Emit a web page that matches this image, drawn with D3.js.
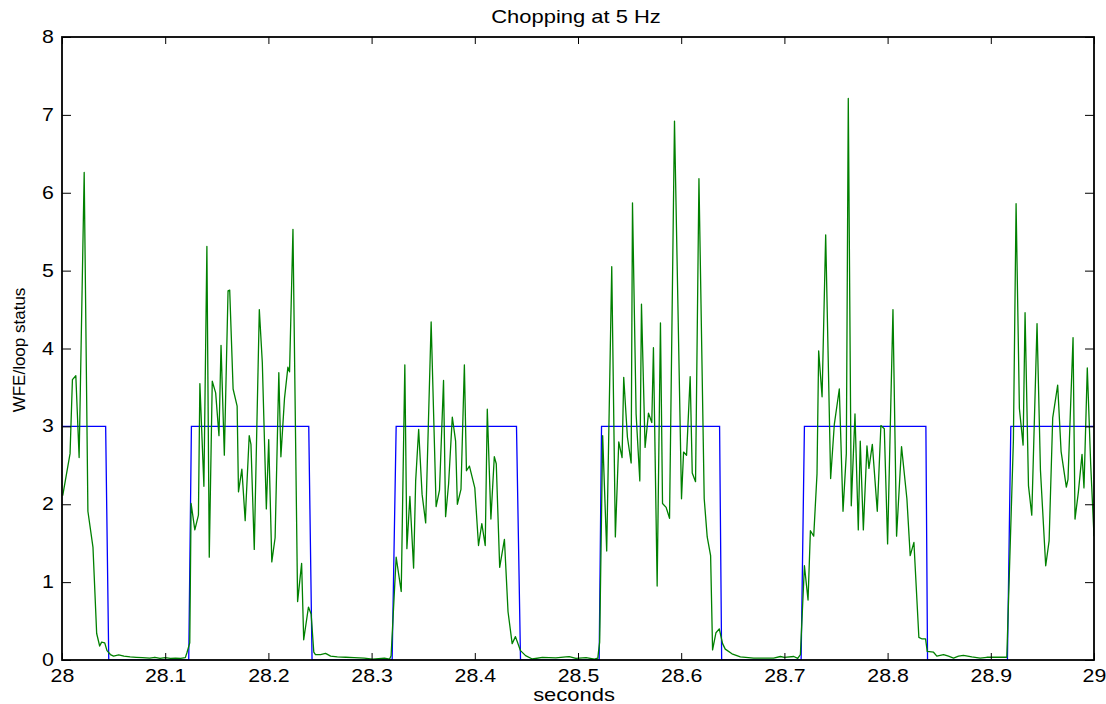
<!DOCTYPE html>
<html>
<head>
<meta charset="utf-8">
<script src="https://cdn.jsdelivr.net/npm/d3@7"></script>
<style>
  body { margin: 0; background: #fff; }
  svg text { font-family: "Liberation Sans", Arial, sans-serif; fill: #000; }
</style>
</head>
<body>
<script>
//Chopping at 5 Hz - WFE trace and loop status

//axis ticks
var xTicks = [28, 28.1, 28.2, 28.3, 28.4, 28.5, 28.6, 28.7, 28.8, 28.9, 29];
var yTicks = [0, 1, 2, 3, 4, 5, 6, 7, 8];

//loop status (square wave, 3 = closed loop)
var statusT = [28.0, 28.0423, 28.0453, 28.1228, 28.1254, 28.2391, 28.2423, 28.3199, 28.3238,
    28.4404, 28.4443, 28.5205, 28.5228, 28.6372, 28.6392, 28.7162, 28.7194, 28.8371, 28.8387,
    28.9161, 28.9194, 29.0];
var statusV = [3, 3, 0, 0, 3, 3, 0, 0, 3, 3, 0, 0, 3, 3, 0, 0, 3, 3, 0, 0, 3, 3];

//WFE samples
var wfeT = [
    28.0007, 28.0078, 28.0101, 28.0134, 28.0166, 28.0215, 28.0251, 28.0300, 28.0336, 28.0365,
    28.0384, 28.0414, 28.0436, 28.0469, 28.0500, 28.0550, 28.0600, 28.0660, 28.0720, 28.0780,
    28.0850, 28.0900, 28.0950, 28.1000, 28.1050, 28.1100, 28.1150, 28.1195, 28.1212, 28.1238,
    28.1251, 28.1287, 28.1322, 28.1336, 28.1375, 28.1404, 28.1427, 28.1456, 28.1489, 28.1521,
    28.1541, 28.1573, 28.1609, 28.1625, 28.1658, 28.1697, 28.1710, 28.1743, 28.1775, 28.1814,
    28.1831, 28.1863, 28.1912, 28.1941, 28.1980, 28.2003, 28.2033, 28.2065, 28.2101, 28.2121,
    28.2156, 28.2189, 28.2205, 28.2238, 28.2283, 28.2322, 28.2342, 28.2388, 28.2414, 28.2440,
    28.2456, 28.2505, 28.2554, 28.2603, 28.2668, 28.2749, 28.2831, 28.2928, 28.3010, 28.3124,
    28.3173, 28.3189, 28.3238, 28.3287, 28.3322, 28.3342, 28.3371, 28.3407, 28.3427, 28.3456,
    28.3489, 28.3524, 28.3577, 28.3625, 28.3658, 28.3697, 28.3717, 28.3746, 28.3782, 28.3814,
    28.3831, 28.3866, 28.3899, 28.3919, 28.3948, 28.4000, 28.4036, 28.4068, 28.4101, 28.4121,
    28.4156, 28.4189, 28.4208, 28.4241, 28.4287, 28.4322, 28.4362, 28.4394, 28.4443, 28.4492,
    28.4557, 28.4655, 28.4785, 28.4883, 28.4915, 28.4980, 28.5078, 28.5160, 28.5192, 28.5200,
    28.5210, 28.5239, 28.5278, 28.5327, 28.5362, 28.5395, 28.5427, 28.5443, 28.5479, 28.5515,
    28.5528, 28.5563, 28.5599, 28.5615, 28.5650, 28.5683, 28.5715, 28.5731, 28.5767, 28.5799,
    28.5819, 28.5854, 28.5887, 28.5935, 28.6003, 28.6023, 28.6052, 28.6087, 28.6107, 28.6139,
    28.6172, 28.6223, 28.6252, 28.6285, 28.6304, 28.6337, 28.6369, 28.6401, 28.6427, 28.6492,
    28.6573, 28.6702, 28.6832, 28.6896, 28.6961, 28.7000, 28.7091, 28.7129, 28.7155, 28.7194,
    28.7229, 28.7252, 28.7284, 28.7316, 28.7332, 28.7365, 28.7400, 28.7448, 28.7484, 28.7532,
    28.7568, 28.7600, 28.7619, 28.7648, 28.7684, 28.7716, 28.7735, 28.7765, 28.7800, 28.7819,
    28.7852, 28.7900, 28.7935, 28.7968, 28.8000, 28.8052, 28.8087, 28.8135, 28.8187, 28.8219,
    28.8255, 28.8303, 28.8335, 28.8368, 28.8384, 28.8445, 28.8477, 28.8542, 28.8590, 28.8639,
    28.8687, 28.8735, 28.8816, 28.8897, 28.8961, 28.9058, 28.9155, 28.9219, 28.9245, 28.9277,
    28.9313, 28.9332, 28.9365, 28.9397, 28.9448, 28.9481, 28.9532, 28.9565, 28.9600, 28.9648,
    28.9681, 28.9732, 28.9748, 28.9797, 28.9816, 28.9848, 28.9884, 28.9903, 28.9935, 28.9968,
    29.0000];
var wfeV = [
    2.11, 2.65, 3.60, 3.65, 2.60, 6.26, 1.91, 1.45, 0.34, 0.18,
    0.23, 0.22, 0.12, 0.07, 0.05, 0.065, 0.05, 0.04, 0.035, 0.03,
    0.025, 0.035, 0.02, 0.03, 0.02, 0.025, 0.02, 0.03, 0.10, 0.22,
    2.01, 1.67, 1.86, 3.55, 2.23, 5.31, 1.32, 3.58, 3.43, 2.88,
    4.04, 2.63, 4.74, 4.75, 3.48, 3.26, 2.16, 2.45, 1.79, 2.88,
    2.77, 1.42, 4.50, 3.82, 1.94, 2.83, 1.26, 1.57, 3.69, 2.61,
    3.36, 3.76, 3.70, 5.53, 0.75, 1.24, 0.26, 0.68, 0.59, 0.10,
    0.07, 0.07, 0.085, 0.05, 0.04, 0.035, 0.03, 0.025, 0.01, 0.025,
    0.01, 0.055, 1.32, 0.88, 3.79, 1.43, 2.10, 1.18, 2.30, 2.96,
    2.13, 1.76, 4.34, 1.97, 2.18, 3.59, 1.84, 2.26, 3.12, 2.81,
    2.00, 2.19, 3.79, 2.43, 2.49, 2.21, 1.47, 1.75, 1.47, 3.22,
    1.81, 2.61, 2.52, 1.19, 1.55, 0.62, 0.21, 0.30, 0.12, 0.056,
    0.013, 0.034, 0.026, 0.04, 0.043, 0.02, 0.03, 0.01, 0.025, 0.12,
    0.23, 2.88, 1.40, 5.05, 1.58, 2.80, 2.60, 3.63, 2.86, 2.53,
    5.87, 3.16, 2.30, 4.57, 2.73, 3.17, 3.05, 4.01, 0.95, 4.33,
    2.01, 1.96, 1.82, 6.92, 2.07, 2.67, 2.63, 3.64, 2.40, 2.29,
    6.18, 2.07, 1.58, 1.34, 0.13, 0.35, 0.40, 0.21, 0.14, 0.08,
    0.04, 0.025, 0.025, 0.025, 0.045, 0.035, 0.045, 0.02, 0.07, 1.21,
    0.77, 1.66, 1.59, 2.39, 3.97, 3.38, 5.46, 2.33, 3.03, 3.48,
    1.91, 2.65, 7.21, 1.98, 3.16, 1.67, 2.81, 1.67, 2.75, 2.46,
    2.77, 1.91, 3.01, 2.97, 1.49, 4.50, 1.59, 2.74, 2.07, 1.34,
    1.51, 0.29, 0.27, 0.27, 0.11, 0.10, 0.05, 0.07, 0.05, 0.025,
    0.05, 0.06, 0.04, 0.025, 0.035, 0.035, 0.035, 2.82, 5.86, 3.23,
    2.76, 4.46, 2.24, 1.86, 4.32, 2.44, 1.21, 1.53, 3.11, 3.53,
    2.68, 2.22, 2.32, 4.14, 1.81, 2.15, 2.64, 2.21, 3.75, 2.51,
    1.59];

window.onload = function(){

    var w = 1106, h = 704;
    var left = 62, top = 37, right = 1094, bottom = 660;
    var sx = 1.22; //text in the source is drawn a bit wide

    var svg = d3.select("body")
        .append("svg")
        .attr("width", w)
        .attr("height", h);

    var x = d3.scaleLinear()
        .domain([28, 29])
        .range([left, right]);

    var y = d3.scaleLinear()
        .domain([0, 8])
        .range([bottom, top]);

    //clip for the traces
    svg.append("clipPath")
        .attr("id", "plotClip")
        .append("rect")
        .attr("x", left)
        .attr("y", top - 1)
        .attr("width", right - left)
        .attr("height", bottom - top + 1);

    var line = d3.line()
        .x(function(d){ return x(d[0]); })
        .y(function(d){ return y(d[1]); });

    var statusPts = statusT.map(function(t, i){ return [t, statusV[i]]; });
    var wfePts = wfeT.map(function(t, i){ return [t, wfeV[i]]; });

    var traces = svg.append("g").attr("clip-path", "url(#plotClip)");

    traces.append("path")
        .datum(statusPts)
        .attr("d", line)
        .style("fill", "none")
        .style("stroke", "#0000ff")
        .style("stroke-width", 1.3);

    traces.append("path")
        .datum(wfePts)
        .attr("d", line)
        .style("fill", "none")
        .style("stroke", "#008000")
        .style("stroke-width", 1.3)
        .style("stroke-linejoin", "round");

    //bottom axis with labels
    var xAxis = svg.append("g")
        .attr("class", "axis")
        .attr("transform", "translate(0," + bottom + ")")
        .call(d3.axisBottom(x).tickValues(xTicks).tickSize(-7).tickSizeOuter(0).tickPadding(10)
            .tickFormat(d3.format("")));
    xAxis.selectAll("text")
        .style("font-size", "17.5px")
        .attr("transform", "scale(" + sx + ",1)");

    //left axis with labels
    var yAxis = svg.append("g")
        .attr("class", "axis")
        .attr("transform", "translate(" + left + ",0)")
        .call(d3.axisLeft(y).tickValues(yTicks).tickSize(-9).tickSizeOuter(0).tickPadding(8));
    yAxis.selectAll("text")
        .style("font-size", "17.5px")
        .attr("x", -8 / sx)
        .attr("transform", "scale(" + sx + ",1)");

    //top and right: ticks only
    svg.append("g")
        .attr("class", "axis")
        .attr("transform", "translate(0," + top + ")")
        .call(d3.axisTop(x).tickValues(xTicks).tickSize(-7).tickSizeOuter(0).tickFormat(""));
    svg.append("g")
        .attr("class", "axis")
        .attr("transform", "translate(" + right + ",0)")
        .call(d3.axisRight(y).tickValues(yTicks).tickSize(-9).tickSizeOuter(0).tickFormat(""));

    svg.selectAll(".axis .domain").remove();
    svg.selectAll(".axis line").style("stroke", "#000").style("stroke-width", 1);

    //frame
    svg.append("rect")
        .attr("x", left)
        .attr("y", top)
        .attr("width", right - left)
        .attr("height", bottom - top)
        .style("fill", "none")
        .style("stroke", "#000")
        .style("stroke-width", 1.8);

    //title
    svg.append("text")
        .attr("text-anchor", "middle")
        .attr("transform", "translate(576,23) scale(" + sx + ",1)")
        .style("font-size", "18px")
        .text("Chopping at 5 Hz");

    //x label
    svg.append("text")
        .attr("text-anchor", "middle")
        .attr("transform", "translate(574,701) scale(" + sx + ",1)")
        .style("font-size", "18px")
        .text("seconds");

    //y label
    svg.append("text")
        .attr("text-anchor", "middle")
        .attr("transform", "translate(25,350) rotate(-90)")
        .style("font-size", "17px")
        .text("WFE/loop status");
};
</script>
</body>
</html>
